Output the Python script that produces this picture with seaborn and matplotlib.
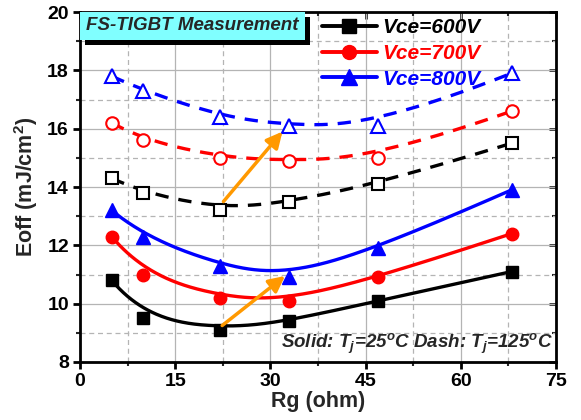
import matplotlib
matplotlib.use("Agg")
import matplotlib.pyplot as plt
import seaborn as sns
import numpy as np
import pandas as pd
from matplotlib.lines import Line2D
from matplotlib.patches import Rectangle
from matplotlib.ticker import MultipleLocator

rg = [5, 10, 22, 33, 47, 68]
solid_600 = [10.8, 9.5, 9.1, 9.4, 10.1, 11.1]
solid_700 = [12.3, 11.0, 10.2, 10.1, 10.9, 12.4]
solid_800 = [13.2, 12.3, 11.3, 10.9, 11.9, 13.9]
dash_600 = [14.3, 13.8, 13.2, 13.5, 14.1, 15.5]
dash_700 = [16.2, 15.6, 15.0, 14.9, 15.0, 16.6]
dash_800 = [17.8, 17.3, 16.4, 16.1, 16.1, 17.9]
legend_labels = ["Vce=600V", "Vce=700V", "Vce=800V"]
colors = ["black", "#ff0000", "#0000ff"]
markers = ["s", "o", "^"]
msizes = [9, 9, 10.5]


def bspline(px, py, k=3, num=300):
    """Clamped cubic B-spline using the data points as control points."""
    px = np.asarray(px, float)
    py = np.asarray(py, float)
    n = len(px)
    knots = np.concatenate([np.zeros(k + 1), np.arange(1, n - k), np.full(k + 1, n - k)]).astype(float)
    t = np.linspace(0, n - k, num)
    t[-1] -= 1e-9

    def N(i, d, tt):
        if d == 0:
            return ((knots[i] <= tt) & (tt < knots[i + 1])).astype(float)
        out = np.zeros_like(tt)
        den1 = knots[i + d] - knots[i]
        den2 = knots[i + d + 1] - knots[i + 1]
        if den1 > 0:
            out += (tt - knots[i]) / den1 * N(i, d - 1, tt)
        if den2 > 0:
            out += (knots[i + d + 1] - tt) / den2 * N(i + 1, d - 1, tt)
        return out

    B = np.array([N(i, k, t) for i in range(n)])
    return B.T @ px, B.T @ py


sns.set_theme(style="ticks")
plt.rcParams["font.family"] = ["Liberation Sans", "DejaVu Sans"]
plt.rcParams["font.weight"] = "bold"
plt.rcParams["mathtext.default"] = "regular"

fig = plt.figure(figsize=(5.81, 4.20), dpi=100)
ax = fig.add_axes([80/581, 1-362/420, 476/581, 350/420])

solid = [solid_600, solid_700, solid_800]
dash = [dash_600, dash_700, dash_800]
for i in range(3):
    sx, sy = bspline(rg, solid[i])
    dx, dy = bspline(rg, dash[i])
    sns.lineplot(x=sx, y=sy, sort=False, estimator=None, ax=ax, color=colors[i], lw=2.4, zorder=3)
    sns.lineplot(x=dx, y=dy, sort=False, estimator=None, ax=ax, color=colors[i], lw=2.4,
                 linestyle=(0, (4, 3)), zorder=3)
    ax.plot(rg, solid[i], ls="none", marker=markers[i], ms=msizes[i], color=colors[i],
            mec=colors[i], zorder=4)
    ax.plot(rg, dash[i], ls="none", marker=markers[i], ms=msizes[i], mfc="white",
            mec=colors[i], mew=1.5, zorder=4)

ax.set_xlim(0, 75)
ax.set_ylim(8, 20)
ax.xaxis.set_major_locator(MultipleLocator(15))
ax.xaxis.set_minor_locator(MultipleLocator(7.5))
ax.yaxis.set_major_locator(MultipleLocator(2))
ax.yaxis.set_minor_locator(MultipleLocator(1))
ax.grid(True, which="major", color="#b4b4b4", lw=0.9, ls="-")
ax.grid(True, which="minor", color="#b4b4b4", lw=0.9, ls=(0, (4, 3)))
ax.set_axisbelow(True)
for s in ax.spines.values():
    s.set_linewidth(2.0)
    s.set_color("black")
ax.tick_params(which="major", direction="out", length=5, width=2, labelsize=14,
               colors="black", pad=3)
ax.tick_params(which="minor", direction="out", length=3, width=1.5)
ax2 = ax.secondary_xaxis("top")
ax3 = ax.secondary_yaxis("right")
for a in (ax2, ax3):
    a.spines[:].set_visible(False)
ax2.xaxis.set_major_locator(MultipleLocator(15))
ax2.xaxis.set_minor_locator(MultipleLocator(7.5))
ax3.yaxis.set_major_locator(MultipleLocator(2))
ax3.yaxis.set_minor_locator(MultipleLocator(1))
ax2.tick_params(which="major", direction="in", length=5, width=2, labeltop=False)
ax2.tick_params(which="minor", direction="in", length=3, width=1.5)
ax3.tick_params(which="major", direction="in", length=5, width=2, labelright=False)
ax3.tick_params(which="minor", direction="in", length=3, width=1.5)
for lab in ax.get_xticklabels() + ax.get_yticklabels():
    lab.set_fontweight("bold")
ax.set_xlabel("Rg (ohm)", fontsize=15.5, fontweight="bold", labelpad=1)
ax.set_ylabel("Eoff (mJ/cm$^2$)", fontsize=15.5, fontweight="bold", labelpad=5)

# title box with shadow
ax.add_patch(Rectangle((5/476, -5/350 + 1 - 28/350), 225/476, 28/350, transform=ax.transAxes,
                       facecolor="black", edgecolor="none", zorder=5, clip_on=False))
ax.add_patch(Rectangle((0, 1 - 28/350), 225/476, 28/350, transform=ax.transAxes,
                       facecolor="#80ffff", edgecolor="none", zorder=6, clip_on=False))
ax.text(112/476, 1 - 14/350, "FS-TIGBT Measurement", transform=ax.transAxes,
        ha="center", va="center", fontsize=13.5, fontweight="bold", style="italic", zorder=7)

handles = [Line2D([], [], color=colors[i], lw=2.8, marker=markers[i], ms=msizes[i] + 1)
           for i in range(3)]
leg = ax.legend(handles, legend_labels, loc="upper left", bbox_to_anchor=(232/476, 1.012),
                frameon=False, handlelength=2.6, handletextpad=0.25, labelspacing=0.32,
                borderaxespad=0.1, prop=dict(size=15, weight="bold", style="italic"))
for t, c in zip(leg.get_texts(), colors):
    t.set_color(c)

ax.text(0.993, 0.018, "Solid: T$_j$=25$^o$C Dash: T$_j$=125$^o$C", transform=ax.transAxes,
        ha="right", va="bottom", fontsize=13.5, fontweight="bold", style="italic", zorder=7)

ax.annotate("", xy=(32.3, 10.95), xytext=(22.4, 9.25),
            arrowprops=dict(arrowstyle="-|>,head_length=0.8,head_width=0.4", color="#ff9900",
                            lw=2.5, shrinkA=0, shrinkB=0), zorder=6)
ax.annotate("", xy=(31.9, 15.9), xytext=(22.6, 13.5),
            arrowprops=dict(arrowstyle="-|>,head_length=0.8,head_width=0.4", color="#ff9900",
                            lw=2.5, shrinkA=0, shrinkB=0), zorder=6)

fig.savefig("out.png", dpi=100)
